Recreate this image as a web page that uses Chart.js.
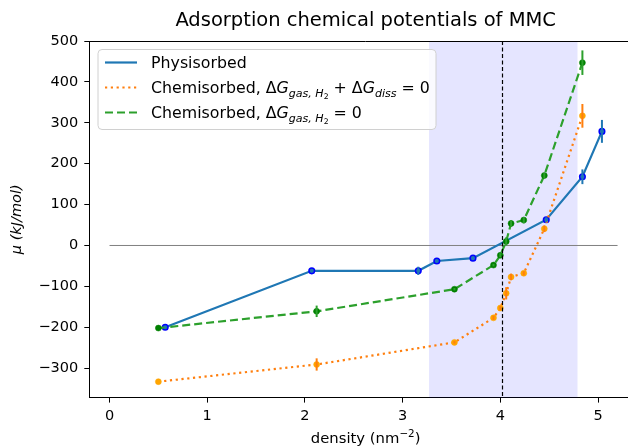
<!DOCTYPE html>
<html>
<head>
<meta charset="utf-8">
<script src="https://cdn.jsdelivr.net/npm/chart.js@4.4.0/dist/chart.umd.min.js"></script>
<style>
  html, body { margin: 0; padding: 0; overflow: hidden; background: #fff; }
</style>
</head>
<body>
<canvas id="chart" width="660" height="446"></canvas>
<script>
// values
const physX = [0.57, 2.07, 3.16, 3.35, 3.72, 4.47, 4.84, 5.04];
const physY = [-200, -62, -62, -38, -31, 63, 168, 279];
const physErr = [3, 3, 10, 3, 3, 6, 18, 28];

const chemX = [0.5, 2.12, 3.53, 3.93, 4.0, 4.06, 4.11, 4.24, 4.45, 4.84];
const chemDissY = [-333, -291, -237, -177, -153, -117, -77, -68, 41, 317];
const chemDissErr = [0, 15, 3, 5, 5, 15, 8, 5, 8, 29];
const chemGasY = [-202, -161, -107, -48, -24, 10, 54, 62, 171, 447];
const chemGasErr = [0, 14, 3, 3, 5, 10, 8, 8, 6, 30];

const zeroLineX = [0, 5.2];
const spanX = [3.27, 4.79];
const markerX = 4.02;

const xTicks = [0, 1, 2, 3, 4, 5];
const yTicks = [-300, -200, -100, 0, 100, 200, 300, 400, 500];

const FONT = 'DejaVu Sans';

function pts(xs, ys) {
  return xs.map((x, i) => ({ x: x, y: ys[i] }));
}

// draws text pieces with mathtext-like sub/superscripts, returns end x
function richText(ctx, parts, x, base, size) {
  parts.forEach(p => {
    const lvl = p.s || 0;
    const fs = size * Math.pow(0.7, Math.abs(lvl));
    const dy = lvl > 0 ? [0, 0.22, 0.34][lvl] * size : -0.42 * size * (lvl < 0 ? 1 : 0);
    ctx.font = (p.i ? 'italic ' : '') + fs + 'px "' + FONT + '"';
    ctx.fillText(p.t, x, base + dy);
    x += ctx.measureText(p.t).width;
  });
  return x;
}

function richWidth(ctx, parts, size) {
  let w = 0;
  parts.forEach(p => {
    const fs = size * Math.pow(0.7, Math.abs(p.s || 0));
    ctx.font = (p.i ? 'italic ' : '') + fs + 'px "' + FONT + '"';
    w += ctx.measureText(p.t).width;
  });
  return w;
}

const errSets = [
  { xs: physX, ys: physY, err: physErr, color: '#1f77b4' },
  { xs: chemX, ys: chemDissY, err: chemDissErr, color: '#ff7f0e' },
  { xs: chemX, ys: chemGasY, err: chemGasErr, color: '#2ca02c' },
];

const xTitle = [{ t: 'density (nm' }, { t: '\u22122', s: -1 }, { t: ')' }];

const legendRows = [
  { y: 62.5, color: '#1f77b4', dash: [], parts: [{ t: 'Physisorbed' }] },
  { y: 87.5, color: '#ff7f0e', dash: [2.2, 3.6], parts: [
    { t: 'Chemisorbed, \u0394' }, { t: 'G', i: 1 }, { t: 'gas, H', i: 1, s: 1 }, { t: '2', s: 2 },
    { t: ' + \u0394' }, { t: 'G', i: 1 }, { t: 'diss', i: 1, s: 1 }, { t: ' = 0' }] },
  { y: 112.5, color: '#2ca02c', dash: [8, 4], parts: [
    { t: 'Chemisorbed, \u0394' }, { t: 'G', i: 1 }, { t: 'gas, H', i: 1, s: 1 }, { t: '2', s: 2 },
    { t: ' = 0' }] },
];

const decor = {
  id: 'decor',
  beforeDatasetsDraw(chart) {
    const { ctx, chartArea: a, scales: { x } } = chart;
    ctx.save();
    ctx.fillStyle = 'rgba(0,0,255,0.1)';
    const x0 = x.getPixelForValue(spanX[0]);
    const x1 = x.getPixelForValue(spanX[1]);
    ctx.fillRect(x0, a.top, x1 - x0, a.bottom - a.top);
    ctx.restore();
  },
  afterDatasetsDraw(chart) {
    const { ctx, chartArea: a, scales: { x, y } } = chart;
    ctx.save();
    // error bars
    ctx.lineWidth = 2;
    errSets.forEach(s => {
      ctx.strokeStyle = s.color;
      s.xs.forEach((v, i) => {
        if (!s.err[i]) return;
        const px = x.getPixelForValue(v);
        ctx.beginPath();
        ctx.moveTo(px, y.getPixelForValue(s.ys[i] - s.err[i]));
        ctx.lineTo(px, y.getPixelForValue(s.ys[i] + s.err[i]));
        ctx.stroke();
      });
    });
    // vertical dashed marker
    const vx = Math.round(x.getPixelForValue(markerX)) + 0.5;
    ctx.strokeStyle = '#000';
    ctx.lineWidth = 1.2;
    ctx.setLineDash([4, 2.5]);
    ctx.beginPath();
    ctx.moveTo(vx, a.top);
    ctx.lineTo(vx, a.bottom);
    ctx.stroke();
    ctx.setLineDash([]);
    // top spine
    ctx.lineWidth = 1;
    ctx.beginPath();
    ctx.moveTo(a.left, Math.round(a.top) + 0.5);
    ctx.lineTo(a.right, Math.round(a.top) + 0.5);
    ctx.stroke();
    ctx.restore();
  },
  afterDraw(chart) {
    const { ctx, chartArea: a } = chart;
    ctx.save();
    ctx.fillStyle = '#000';
    ctx.textBaseline = 'alphabetic';

    // x axis title with superscript
    const ts = 14.8;
    const tw = richWidth(ctx, xTitle, ts);
    richText(ctx, xTitle, (a.left + a.right) / 2 - tw / 2, 443, ts);

    // legend box
    const bx = 98, by = 49.5, bw = 338, bh = 80, r = 4;
    ctx.beginPath();
    ctx.moveTo(bx + r, by);
    ctx.arcTo(bx + bw, by, bx + bw, by + bh, r);
    ctx.arcTo(bx + bw, by + bh, bx, by + bh, r);
    ctx.arcTo(bx, by + bh, bx, by, r);
    ctx.arcTo(bx, by, bx + bw, by, r);
    ctx.closePath();
    ctx.fillStyle = 'rgba(255,255,255,0.8)';
    ctx.fill();
    ctx.strokeStyle = '#d0d0d0';
    ctx.lineWidth = 1;
    ctx.stroke();

    const size = 15.8;
    legendRows.forEach(row => {
      ctx.strokeStyle = row.color;
      ctx.lineWidth = 2.2;
      ctx.setLineDash(row.dash);
      ctx.beginPath();
      ctx.moveTo(105, row.y);
      ctx.lineTo(137, row.y);
      ctx.stroke();
      ctx.setLineDash([]);
      ctx.fillStyle = '#000';
      richText(ctx, row.parts, 151, row.y + size * 0.36, size);
    });
    ctx.restore();
  }
};

const axisCommon = {
  grid: { drawOnChartArea: false, drawTicks: true, tickLength: 5, color: '#000' },
  border: { display: true, color: '#000', width: 1 },
};

const minus = v => String(v).replace('-', '\u2212');

new Chart(document.getElementById('chart'), {
  type: 'line',
  data: {
    datasets: [
      {
        label: 'Physisorbed',
        data: pts(physX, physY),
        borderColor: '#1f77b4',
        borderWidth: 2.2,
        pointRadius: 2.8,
        pointBackgroundColor: '#1f77b4',
        pointBorderColor: 'blue',
        pointBorderWidth: 1.5,
        order: 3,
      },
      {
        label: 'Chemisorbed diss',
        data: pts(chemX, chemDissY),
        borderColor: '#ff7f0e',
        borderWidth: 2.2,
        borderDash: [2.2, 3.6],
        pointRadius: 3,
        pointBorderWidth: 0.5,
        pointBackgroundColor: 'orange',
        pointBorderColor: 'orange',
        order: 2,
      },
      {
        label: 'Chemisorbed gas',
        data: pts(chemX, chemGasY),
        borderColor: '#2ca02c',
        borderWidth: 2.2,
        borderDash: [8, 4],
        pointRadius: 3,
        pointBorderWidth: 0.5,
        pointBackgroundColor: 'green',
        pointBorderColor: 'green',
        order: 1,
      },
      {
        label: 'zero',
        data: pts(zeroLineX, [0, 0]),
        borderColor: '#808080',
        borderWidth: 1,
        pointRadius: 0,
        order: 4,
      },
    ],
  },
  options: {
    responsive: false,
    animation: false,
    devicePixelRatio: 1,
    layout: { padding: { left: 0, right: 18, top: 0, bottom: 0 } },
    plugins: {
      legend: { display: false },
      tooltip: { enabled: false },
      title: {
        display: true,
        fullSize: false,
        text: 'Adsorption chemical potentials of MMC',
        color: '#000',
        font: { family: FONT, size: 19.5, weight: 'normal' },
        padding: { top: 9, bottom: 8.6 },
      },
    },
    scales: {
      x: {
        ...axisCommon,
        type: 'linear',
        min: -0.207,
        max: 5.45,
        afterBuildTicks: s => { s.ticks = xTicks.map(v => ({ value: v })); },
        afterFit: s => { s.height = 48.4; },
        ticks: { color: '#000', font: { family: FONT, size: 14.5 }, padding: 5, maxRotation: 0 },
      },
      y: {
        ...axisCommon,
        min: -372,
        max: 500,
        afterBuildTicks: s => { s.ticks = yTicks.map(v => ({ value: v })); },
        afterFit: s => { s.width = 89.3; },
        ticks: { color: '#000', font: { family: FONT, size: 14.5 }, padding: 6, callback: minus },
        title: {
          display: true,
          text: '\u03BC (kJ/mol)',
          color: '#000',
          font: { family: FONT, size: 14.5, style: 'italic' },
          padding: { top: 9, bottom: 0 },
        },
      },
    },
  },
  plugins: [decor],
});
</script>
</body>
</html>
